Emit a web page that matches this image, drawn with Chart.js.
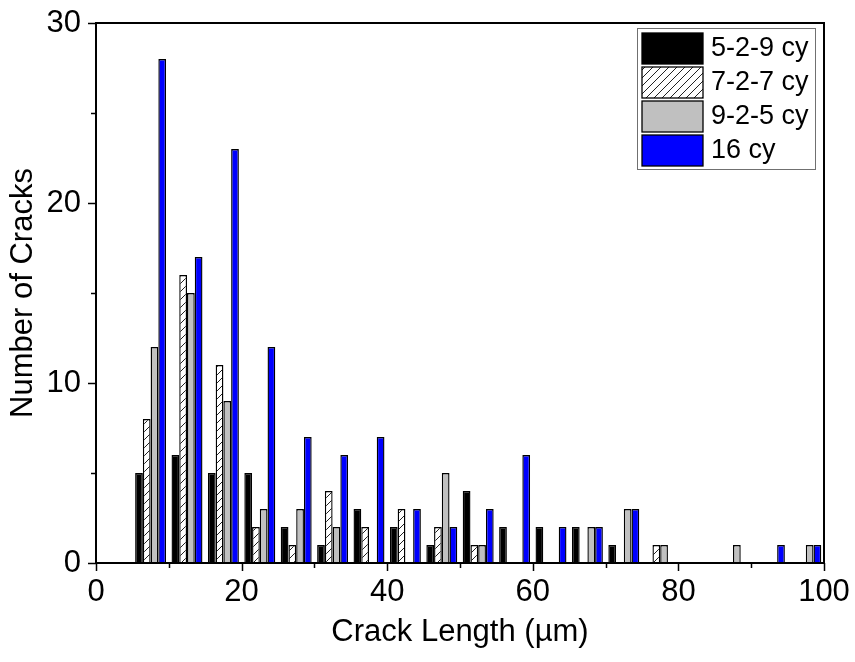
<!DOCTYPE html>
<html>
<head>
<meta charset="utf-8">
<script src="https://cdn.jsdelivr.net/npm/chart.js@4/dist/chart.umd.min.js"></script>
<style>
  html, body { margin: 0; padding: 0; background: #ffffff; }
  #wrap { width: 855px; height: 662px; position: relative; }
</style>
</head>
<body>
<div id="wrap"><canvas id="c" width="855" height="662"></canvas></div>
<script>
// Crack-length histogram: bin centres (µm) and crack counts per loading sequence
const binCenters = [7.5, 12.5, 17.5, 22.5, 27.5, 32.5, 37.5, 42.5, 47.5, 52.5,
                    57.5, 62.5, 67.5, 72.5, 77.5, 82.5, 87.5, 92.5, 97.5];
const seriesLabels = ['5-2-9 cy', '7-2-7 cy', '9-2-5 cy', '16 cy'];
const counts_5_2_9 = [5, 6, 5, 5, 2, 1, 3, 2, 1, 4, 2, 2, 2, 1, 0, 0, 0, 0, 0];
const counts_7_2_7 = [8, 16, 11, 2, 1, 4, 2, 3, 2, 1, 0, 0, 0, 0, 1, 0, 0, 0, 0];
const counts_9_2_5 = [12, 15, 9, 3, 3, 2, 0, 0, 5, 1, 0, 0, 2, 3, 1, 0, 1, 0, 1];
const counts_16    = [28, 17, 23, 12, 7, 6, 7, 3, 2, 3, 6, 2, 2, 3, 0, 0, 0, 1, 1];
const xTickValues = [0, 20, 40, 60, 80, 100];
const yTickValues = [0, 10, 20, 30];

const FONT = "'Liberation Sans', Arial, sans-serif";

// diagonal hatch fill for the 7-2-7 series
function makeHatch() {
  const s = 8;
  const pc = document.createElement('canvas');
  pc.width = s; pc.height = s;
  const g = pc.getContext('2d');
  g.fillStyle = '#ffffff';
  g.fillRect(0, 0, s, s);
  g.strokeStyle = '#222222';
  g.lineWidth = 1;
  g.beginPath();
  g.moveTo(0, s); g.lineTo(s, 0);
  g.moveTo(-s / 2, s / 2); g.lineTo(s / 2, -s / 2);
  g.moveTo(s / 2, s * 1.5); g.lineTo(s * 1.5, s / 2);
  g.stroke();
  return g.createPattern(pc, 'repeat');
}
const hatch = makeHatch();

const fills = ['#000000', hatch, '#c0c0c0', '#0000ff'];
const allCounts = [counts_5_2_9, counts_7_2_7, counts_9_2_5, counts_16];

// empty bins are left blank rather than drawn as flat bars
const toPoints = arr => binCenters.map((x, i) => ({ x: x, y: arr[i] === 0 ? null : arr[i] }));

const datasets = allCounts.map((arr, k) => ({
  label: seriesLabels[k],
  data: toPoints(arr),
  backgroundColor: fills[k],
  borderColor: '#000000',
  borderWidth: 1.4,
  borderSkipped: 'start',
  categoryPercentage: 0.85,
  barPercentage: 1.0
}));

// plot frame, outward tick marks and the boxed legend
const framePlugin = {
  id: 'frame',
  afterDraw(chart) {
    const ctx = chart.ctx;
    const a = chart.chartArea;
    const xs = chart.scales.x, ys = chart.scales.y;
    ctx.save();
    ctx.strokeStyle = '#000000';
    ctx.lineWidth = 2;
    ctx.strokeRect(a.left, a.top, a.right - a.left, a.bottom - a.top);

    ctx.lineWidth = 1.5;
    ctx.beginPath();
    for (let v = 0; v <= 100; v += 10) {
      const px = Math.round(xs.getPixelForValue(v)) + 0.5;
      const len = v % 20 === 0 ? 8 : 5;
      ctx.moveTo(px, a.bottom);
      ctx.lineTo(px, a.bottom + len);
    }
    for (let v = 0; v <= 30; v += 5) {
      const py = Math.round(ys.getPixelForValue(v)) + 0.5;
      const len = v % 10 === 0 ? 8 : 5;
      ctx.moveTo(a.left, py);
      ctx.lineTo(a.left - len, py);
    }
    ctx.stroke();

    // legend
    const lx = 637, ly = 28, lw = 178, lh = 141;
    ctx.fillStyle = '#ffffff';
    ctx.fillRect(lx, ly, lw, lh);
    ctx.strokeStyle = '#707070';
    ctx.lineWidth = 1;
    ctx.strokeRect(lx + 0.5, ly + 0.5, lw, lh);
    ctx.font = '27px ' + FONT;
    ctx.textBaseline = 'middle';
    ctx.textAlign = 'left';
    chart.data.datasets.forEach((ds, i) => {
      const sy = 33 + i * 34;
      ctx.fillStyle = ds.backgroundColor;
      ctx.fillRect(642, sy, 61, 31);
      ctx.strokeStyle = '#000000';
      ctx.lineWidth = 1.3;
      ctx.strokeRect(642, sy, 61, 31);
      ctx.fillStyle = '#000000';
      ctx.fillText(ds.label, 711, sy + 16);
    });
    ctx.restore();
  }
};

new Chart(document.getElementById('c'), {
  type: 'bar',
  data: { datasets: datasets },
  options: {
    responsive: false,
    animation: false,
    events: [],
    layout: { padding: { left: 0, right: 31, top: 23, bottom: 0 } },
    plugins: { legend: { display: false }, tooltip: { enabled: false } },
    scales: {
      x: {
        type: 'linear',
        min: 0, max: 100,
        offset: false,
        grid: { display: false, drawTicks: false },
        border: { display: false },
        afterBuildTicks(scale) { scale.ticks = xTickValues.map(v => ({ value: v })); },
        afterFit(scale) {
          scale.height = 99;
          scale.paddingLeft = 0; scale.paddingRight = 0;
        },
        ticks: {
          autoSkip: false, maxRotation: 0, padding: 11,
          color: '#000000',
          font: { family: FONT, size: 31 }
        },
        title: {
          display: true, text: 'Crack Length (µm)', color: '#000000',
          font: { family: FONT, size: 31 },
          padding: { top: 0, bottom: 11 }
        }
      },
      y: {
        min: 0, max: 30,
        grid: { display: false, drawTicks: false },
        border: { display: false },
        afterBuildTicks(scale) { scale.ticks = yTickValues.map(v => ({ value: v })); },
        afterFit(scale) {
          scale.width = 96;
          scale.paddingTop = 0; scale.paddingBottom = 0;
        },
        ticks: {
          padding: 15,
          color: '#000000',
          font: { family: FONT, size: 31 }
        },
        title: {
          display: true, text: 'Number of Cracks', color: '#000000',
          font: { family: FONT, size: 31 },
          padding: { top: 5, bottom: 0 }
        }
      }
    }
  },
  plugins: [framePlugin]
});
</script>
</body>
</html>
